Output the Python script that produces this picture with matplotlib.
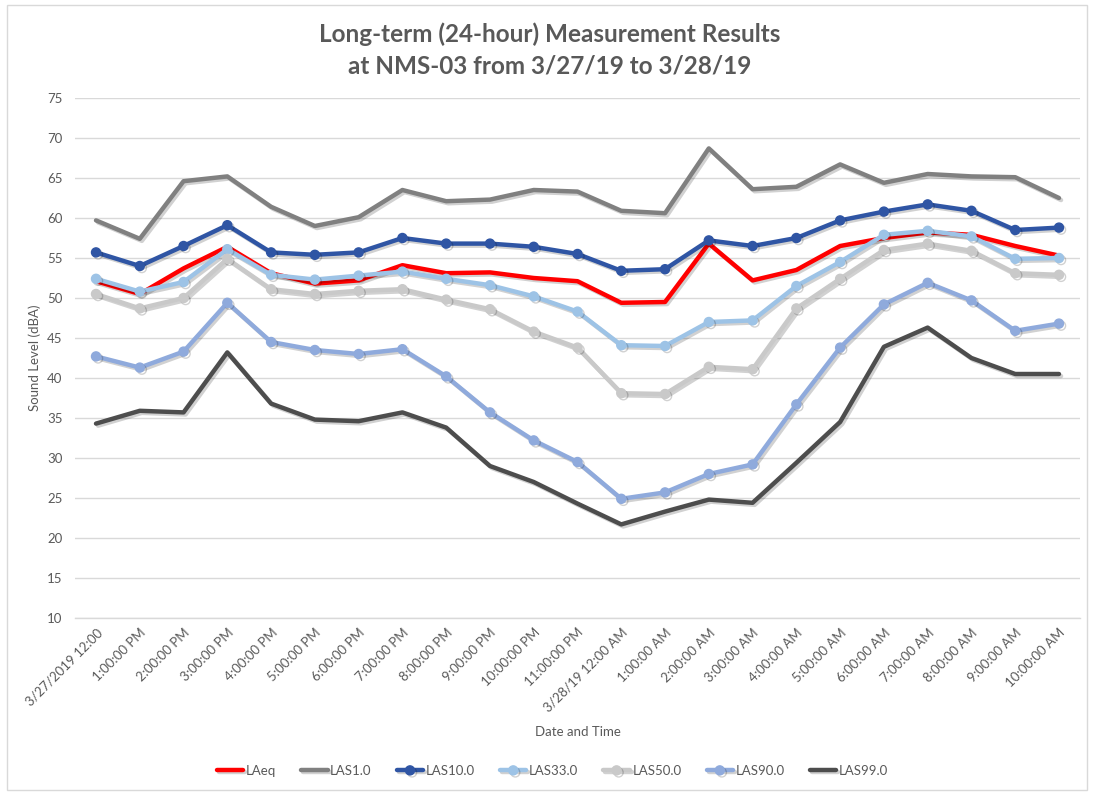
import matplotlib
matplotlib.use("Agg")
import matplotlib.pyplot as plt
import matplotlib.patheffects as pe

labels = ["3/27/2019 12:00", "1:00:00 PM", "2:00:00 PM", "3:00:00 PM", "4:00:00 PM",
          "5:00:00 PM", "6:00:00 PM", "7:00:00 PM", "8:00:00 PM", "9:00:00 PM",
          "10:00:00 PM", "11:00:00 PM", "3/28/19 12:00 AM", "1:00:00 AM", "2:00:00 AM",
          "3:00:00 AM", "4:00:00 AM", "5:00:00 AM", "6:00:00 AM", "7:00:00 AM",
          "8:00:00 AM", "9:00:00 AM", "10:00:00 AM"]

laeq = [52.1, 50.5, 53.7, 56.4, 53.1, 51.8, 52.2, 54.1, 53.1, 53.2, 52.5, 52.1,
        49.4, 49.5, 56.8, 52.2, 53.5, 56.5, 57.5, 58.2, 57.9, 56.5, 55.3]
las1 = [59.7, 57.4, 64.6, 65.2, 61.4, 59.0, 60.1, 63.5, 62.1, 62.3, 63.5, 63.3,
        60.9, 60.6, 68.7, 63.6, 63.9, 66.7, 64.4, 65.5, 65.2, 65.1, 62.5]
las10 = [55.7, 54.0, 56.5, 59.1, 55.7, 55.4, 55.7, 57.5, 56.8, 56.8, 56.4, 55.5,
         53.4, 53.6, 57.2, 56.5, 57.5, 59.7, 60.8, 61.7, 60.9, 58.5, 58.8]
las33 = [52.4, 50.8, 52.0, 56.1, 52.9, 52.3, 52.8, 53.3, 52.4, 51.6, 50.2, 48.3,
         44.1, 44.0, 47.0, 47.2, 51.5, 54.5, 57.9, 58.4, 57.7, 54.9, 55.0]
las50 = [50.5, 48.7, 50.0, 54.9, 51.1, 50.5, 50.9, 51.1, 49.8, 48.6, 45.8, 43.8,
         38.1, 38.0, 41.4, 41.1, 48.7, 52.4, 56.0, 56.8, 55.9, 53.1, 52.9]
las90 = [42.7, 41.3, 43.3, 49.4, 44.5, 43.5, 43.0, 43.6, 40.2, 35.7, 32.2, 29.5,
         24.9, 25.7, 28.0, 29.2, 36.7, 43.8, 49.2, 51.9, 49.7, 45.9, 46.8]
las99 = [34.3, 35.9, 35.7, 43.2, 36.8, 34.8, 34.6, 35.7, 33.8, 29.0, 27.0, 24.3,
         21.7, 23.3, 24.8, 24.4, 29.4, 34.5, 43.9, 46.3, 42.5, 40.5, 40.5]

series = [
    ("LAeq", laeq, "#FF0000", False),
    ("LAS1.0", las1, "#808080", False),
    ("LAS10.0", las10, "#2F55A4", True),
    ("LAS33.0", las33, "#9DC3E6", True),
    ("LAS50.0", las50, "#C9C9C9", True),
    ("LAS90.0", las90, "#8FAADC", True),
    ("LAS99.0", las99, "#4D4D4D", False),
]

plt.rcParams['font.family'] = ['Lato', 'DejaVu Sans']
txt = "#595959"

fig = plt.figure(figsize=(10.94, 7.93), dpi=100)
ax = fig.add_axes([75/1094, 1-618/793, (1080-75)/1094, (618-98)/793])

x = list(range(len(labels)))
shadow = [pe.SimpleLineShadow(offset=(1.5, -1.5), shadow_color="#000000", alpha=0.18),
          pe.Normal()]
for name, vals, col, mk in series:
    ax.plot(x, vals, color=col, lw=3.2, label=name,
            marker="o" if mk else None, markersize=6.5,
            solid_joinstyle="round", solid_capstyle="round",
            path_effects=shadow)

ax.set_xlim(-0.48, len(labels) - 0.52)
ax.set_ylim(10, 75)
ax.set_yticks(range(10, 76, 5))
ax.grid(axis="y", color="#D9D9D9", lw=1)
ax.set_axisbelow(True)
for s in ["top", "right", "left"]:
    ax.spines[s].set_visible(False)
ax.spines["bottom"].set_color("#D9D9D9")
ax.spines["bottom"].set_linewidth(1)
ax.tick_params(axis="both", length=0, colors=txt, labelsize=9.5)
ax.tick_params(axis="y", pad=9)
ax.set_xticks(x)
ax.set_xticklabels(labels, rotation=45, ha="right", rotation_mode="anchor", fontsize=9.5)
ax.tick_params(axis="x", pad=6)

ax.set_ylabel("Sound Level (dBA)", color=txt, fontsize=9.5, labelpad=4)
ax.set_xlabel("Date and Time", color=txt, fontsize=9.5, labelpad=8)

fig.suptitle("Long-term (24-hour) Measurement Results\nat NMS-03 from 3/27/19 to 3/28/19",
             x=0.502, y=0.972, fontsize=17.5, fontweight="bold", color=txt, linespacing=1.45)

leg = fig.legend(loc="center", bbox_to_anchor=(0.505, 1-771/793), ncol=7, frameon=False,
                 fontsize=9.5, handlelength=2.0, columnspacing=1.9, handletextpad=0.2)
for t in leg.get_texts():
    t.set_color(txt)

fig.patches.append(plt.Rectangle((0.006, 0.004), 0.988, 0.99, transform=fig.transFigure,
                                 fill=False, edgecolor="#D9D9D9", lw=1))

fig.savefig("out.png", dpi=100)
